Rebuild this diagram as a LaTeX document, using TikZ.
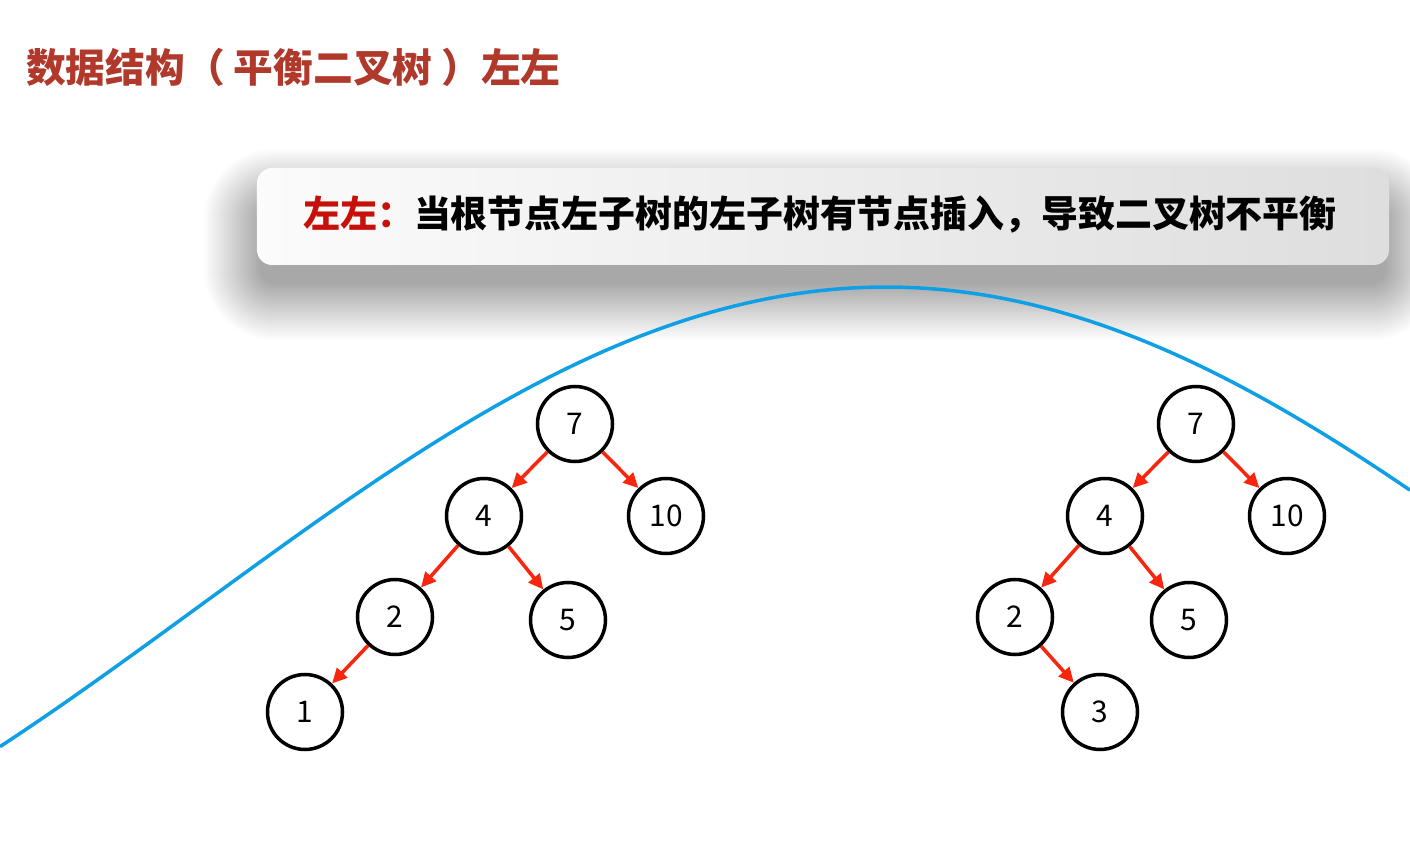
\documentclass[tikz,border=0pt]{standalone}
\usepackage{fontspec}
\setmainfont{Noto Sans CJK SC}
\usetikzlibrary{arrows.meta}
\definecolor{titlered}{HTML}{B0392B}
\definecolor{keyred}{HTML}{C8100A}
\definecolor{arrowred}{HTML}{F8260E}
\definecolor{curveblue}{HTML}{0E9FE4}
\begin{document}
\begin{tikzpicture}[x=0.2mm, y=-0.2mm, >={Triangle[length=3mm,width=2.8mm]},
  treenode/.style={draw, circle, line width=2pt, minimum size=15mm, inner sep=0pt, font=\fontsize{17}{17}\selectfont},
  link/.style={->, draw=arrowred, line width=2pt},
  banner/.style={rounded corners=3mm, minimum width=226.4mm, minimum height=19.4mm, left color=white!97!gray, right color=gray!26}]
\fill[white] (0,0) rectangle (1410,853);
\useasboundingbox (0,0) rectangle (1410,853);
% title
\node[anchor=west, text=titlered, font=\bfseries\fontsize{22.6}{23}\selectfont] (title) at (20,67) {数据结构（ 平衡二叉树 ）左左};
% soft shadow of the rule box
\foreach \d in {0,2,...,56}
  \fill[black, opacity=0.0105, rounded corners=3mm+\d*0.2mm] (260-\d,205-\d) rectangle (1386+\d,284+\d);
% rule box
\node[banner] (rule) at (823,216.5) {};
\node[font=\bfseries\fontsize{21}{21}\selectfont] (ruletext) at (820,215) {\textcolor{keyred}{左左：}当根节点左子树的左子树有节点插入，导致二叉树不平衡};
% curve
\draw[curveblue, line width=2pt] plot[domain=0:1410, samples=120] (\x, {287+319*(1-cos(deg((\x-886)/437)))});
% left tree
\node[treenode] (a7) at (575,424) {7};
\node[treenode] (a4) at (484,516) {4};
\node[treenode] (a10) at (666,516) {10};
\node[treenode] (a2) at (395,617) {2};
\node[treenode] (a5) at (568,620) {5};
\node[treenode] (a1) at (305,712) {1};
% right tree
\node[treenode] (b7) at (1196,424) {7};
\node[treenode] (b4) at (1105,516) {4};
\node[treenode] (b10) at (1287,516) {10};
\node[treenode] (b2) at (1015,617) {2};
\node[treenode] (b5) at (1189,620) {5};
\node[treenode] (b3) at (1100,712) {3};
\draw[link] (a7)--(a4);
\draw[link] (a7)--(a10);
\draw[link] (a4)--(a2);
\draw[link] (a4)--(a5);
\draw[link] (a2)--(a1);
\draw[link] (b7)--(b4);
\draw[link] (b7)--(b10);
\draw[link] (b4)--(b2);
\draw[link] (b4)--(b5);
\draw[link] (b2)--(b3);
\end{tikzpicture}
\end{document}
